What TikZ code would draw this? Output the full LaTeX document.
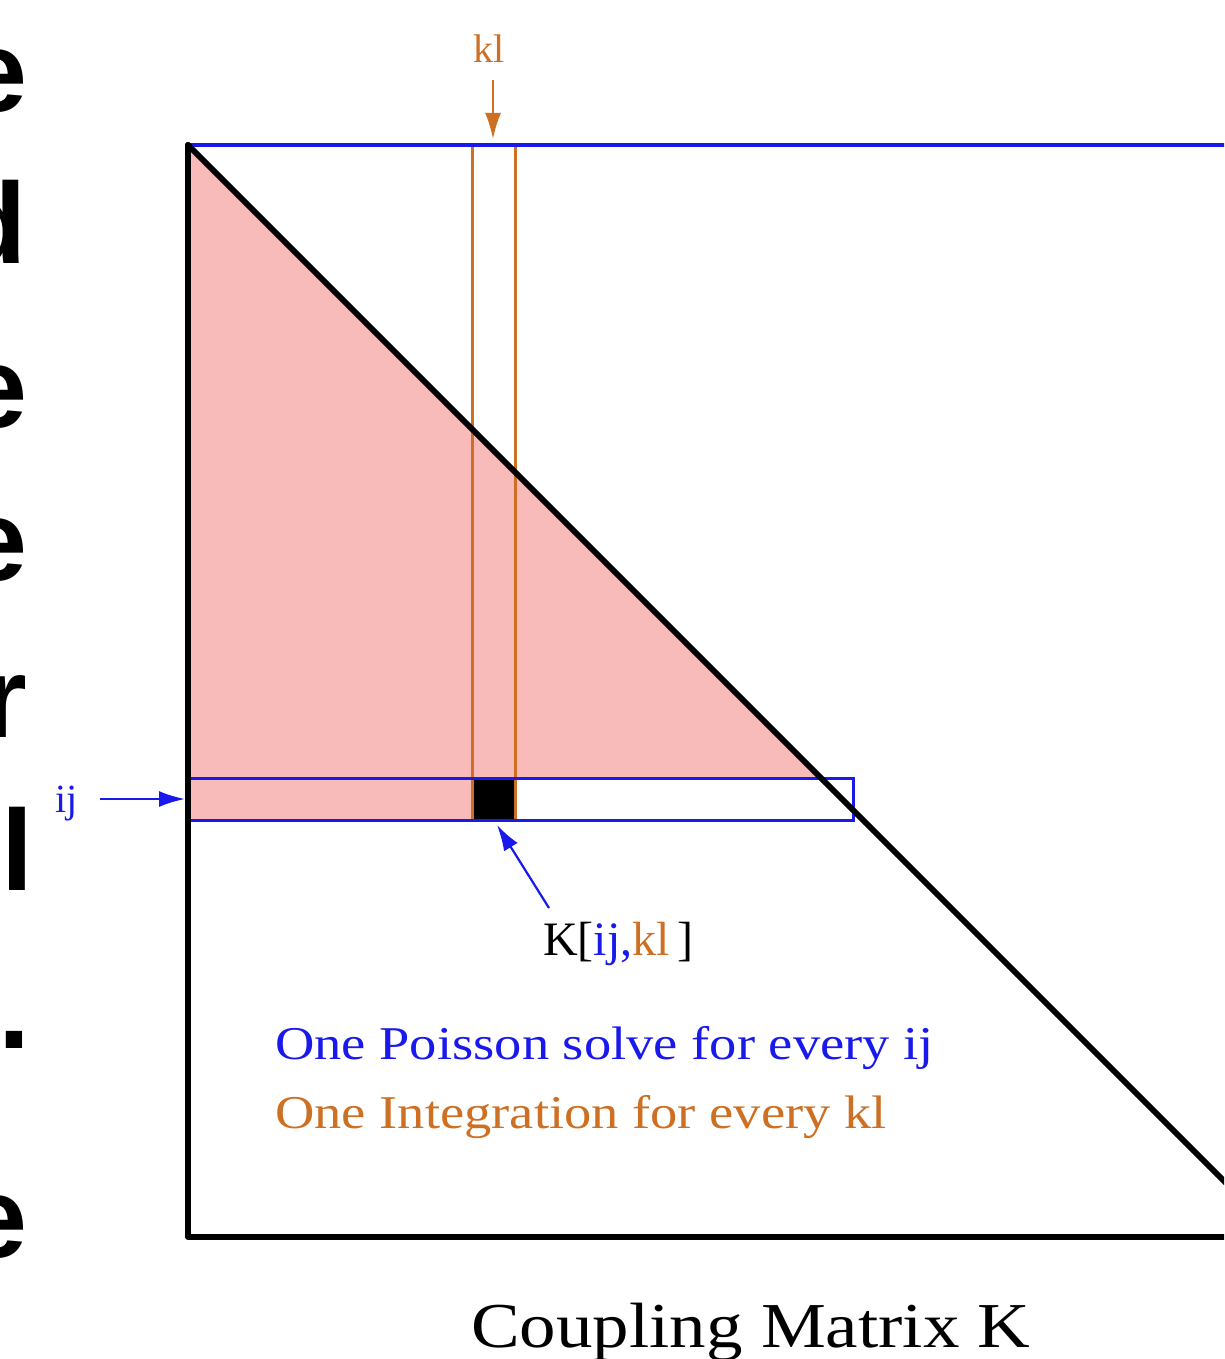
\documentclass[tikz,border=0pt]{standalone}
\usepackage{fontspec}
\usepackage{graphicx}
\setmainfont{Liberation Serif}
\newfontfamily\slidefont{Liberation Sans}
\usetikzlibrary{arrows.meta}
\definecolor{kblue}{RGB}{25,25,235}
\definecolor{korange}{RGB}{205,112,35}
\definecolor{kpink}{RGB}{249,186,186}
\newcommand{\widetext}[1]{\scalebox{1.16}[1]{#1}}
\newcommand{\titletext}[1]{\scalebox{1.14}[1]{#1}}
\tikzset{
  slideletter/.style={anchor=base east,inner sep=0pt,outer sep=0pt,
    font=\slidefont\bfseries\fontsize{115}{120}\selectfont},
  blackline/.style={line width=6pt,black,line cap=round,line join=round},
  blueline/.style={line width=3.5pt,kblue},
  orangebox/.style={line width=3pt,korange},
  bandbox/.style={line width=3pt,kblue},
  smalllabel/.style={inner sep=0pt,font=\fontsize{40}{44}\selectfont},
  caption/.style={anchor=base west,inner sep=0pt},
  bluearrow/.style={kblue,line width=2.2pt,-{Latex[length=26pt,width=16pt]}},
  orangearrow/.style={korange,line width=2.2pt,-{Latex[length=26pt,width=16pt]}}
}
\begin{document}
\begin{tikzpicture}[x=1pt,y=-1pt]
\useasboundingbox (0,0) rectangle (1224,1359);
\clip (0,0) rectangle (1224,1359);
\fill[white] (0,0) rectangle (1224,1359);

% cut-off slide letters on the left
\node[slideletter] (s1) at (27,112) {e};
\node[slideletter] (s2) at (27,263) {d};
\node[slideletter] (s3) at (27,427) {e};
\node[slideletter] (s4) at (27,580) {e};
\node[slideletter] (s5) at (27,737) {r};
\node[slideletter] (s6) at (33,890) {l};
\node[slideletter] (s7) at (30,1048) {.};
\node[slideletter] (s8) at (27,1257) {e};

% key points of the matrix
\coordinate (TL) at (188,145);
\coordinate (BL) at (188,1237);
\coordinate (BR) at (1280,1237);
\coordinate (TR) at (1280,145);

% pink region
\fill[kpink] (188,145) -- (188,778) -- (821,778) -- cycle;
\fill[kpink] (188,776) rectangle (472,820);

% element K[ij,kl]
\fill[black] (472,778) rectangle (515,820);

% kl column
\draw[orangebox] (472,145) rectangle (515,820);

% ij row band
\draw[bandbox] (188,778) rectangle (853,820);

% top edge (blue)
\draw[blueline] (TL) -- (TR);

% left, bottom edges and diagonal
\draw[blackline] (TL) -- (BL) -- (BR);
\draw[blackline] (TL) -- (BR);

% labels and arrows
\node[smalllabel,korange,anchor=base] (kl) at (489,63) {kl};
\coordinate (kltail) at (493,80);
\coordinate (kltip) at (493,139);
\draw[orangearrow] (kltail) -- (kltip);

\node[smalllabel,kblue,anchor=base west] (ij) at (55,812) {ij};
\coordinate (ijtail) at (100,799);
\coordinate (ijtip) at (185,799);
\draw[bluearrow] (ijtail) -- (ijtip);

\node[caption,font=\fontsize{48}{52}\selectfont] (K) at (543,955)
  {K[\textcolor{kblue}{ij,}\textcolor{korange}{kl}\,]};
\coordinate (Ktail) at (549,908);
\coordinate (Ktip) at (497,825);
\draw[bluearrow] (Ktail) -- (Ktip);

\node[caption,kblue,font=\fontsize{47}{50}\selectfont] (poisson) at (275,1059)
  {\widetext{One Poisson solve for every ij}};
\node[caption,korange,font=\fontsize{47}{50}\selectfont] (integ) at (275,1128)
  {\widetext{One Integration for every kl}};
\node[caption,font=\fontsize{64}{68}\selectfont] (title) at (471,1347)
  {\titletext{Coupling Matrix K}};
\end{tikzpicture}
\end{document}
